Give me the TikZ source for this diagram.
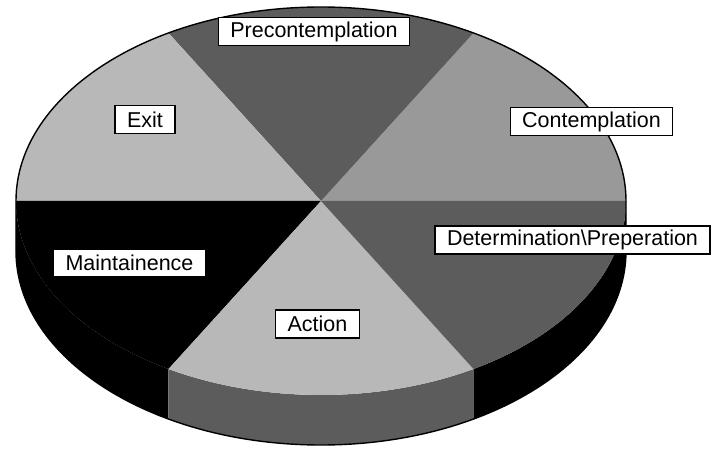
\documentclass[tikz,border=0pt]{standalone}
\usepackage{fontspec}
\setmainfont{Liberation Sans}
\usepackage{tikz}

\begin{document}
\begin{tikzpicture}[x=0.5pt,y=0.5pt]
\tikzstyle{tag}=[draw=black,fill=white,line width=0.6pt,inner xsep=6pt,inner ysep=0pt,minimum height=14pt,font=\fontsize{10.75}{12}\selectfont]
\tikzstyle{rim} = [draw=black,line width=0.7pt]
\def \rx {305}
\def \ry {194}
\def \dep {50}
\definecolor{lightdot}{gray}{0.72}
\definecolor{middot}{gray}{0.60}
\definecolor{darkdot}{gray}{0.36}
\useasboundingbox (-321,-248) rectangle (391,201);
% side walls
\fill[black] ({\rx*cos(180)},{\ry*sin(180)}) arc[start angle=180,end angle=240,x radius=\rx,y radius=\ry] -- ++(0,-\dep) arc[start angle=240,end angle=180,x radius=\rx,y radius=\ry] -- cycle;
\fill[darkdot] ({\rx*cos(240)},{\ry*sin(240)}) arc[start angle=240,end angle=300,x radius=\rx,y radius=\ry] -- ++(0,-\dep) arc[start angle=300,end angle=240,x radius=\rx,y radius=\ry] -- cycle;
\fill[black] ({\rx*cos(300)},{\ry*sin(300)}) arc[start angle=300,end angle=360,x radius=\rx,y radius=\ry] -- ++(0,-\dep) arc[start angle=360,end angle=300,x radius=\rx,y radius=\ry] -- cycle;
% top slices
\fill[middot] (0,0) -- ({\rx*cos(0)},{\ry*sin(0)}) arc[start angle=0,end angle=60,x radius=\rx,y radius=\ry] -- cycle;
\fill[darkdot] (0,0) -- ({\rx*cos(60)},{\ry*sin(60)}) arc[start angle=60,end angle=120,x radius=\rx,y radius=\ry] -- cycle;
\fill[lightdot] (0,0) -- ({\rx*cos(120)},{\ry*sin(120)}) arc[start angle=120,end angle=180,x radius=\rx,y radius=\ry] -- cycle;
\fill[black] (0,0) -- ({\rx*cos(180)},{\ry*sin(180)}) arc[start angle=180,end angle=240,x radius=\rx,y radius=\ry] -- cycle;
\fill[lightdot] (0,0) -- ({\rx*cos(240)},{\ry*sin(240)}) arc[start angle=240,end angle=300,x radius=\rx,y radius=\ry] -- cycle;
\fill[darkdot] (0,0) -- ({\rx*cos(300)},{\ry*sin(300)}) arc[start angle=300,end angle=360,x radius=\rx,y radius=\ry] -- cycle;
% outline
\path[rim] ({\rx*cos(180)},{\ry*sin(180)}) arc[start angle=180,end angle=0,x radius=\rx,y radius=\ry] -- ++(0,-\dep) arc[start angle=360,end angle=180,x radius=\rx,y radius=\ry] -- cycle;
\node[tag] (pre) at (-7,169.5) {Precontemplation};
\node[tag] (con) at (270.5,79.5) {Contemplation};
\node[tag] (det) at (251.5,-39) {Determination\textbackslash Preperation};
\node[tag] (act) at (-3.5,-123) {Action};
\node[tag] (mai) at (-191.5,-62) {Maintainence};
\node[tag] (ext) at (-176,81.5) {Exit};
\end{tikzpicture}
\end{document}
